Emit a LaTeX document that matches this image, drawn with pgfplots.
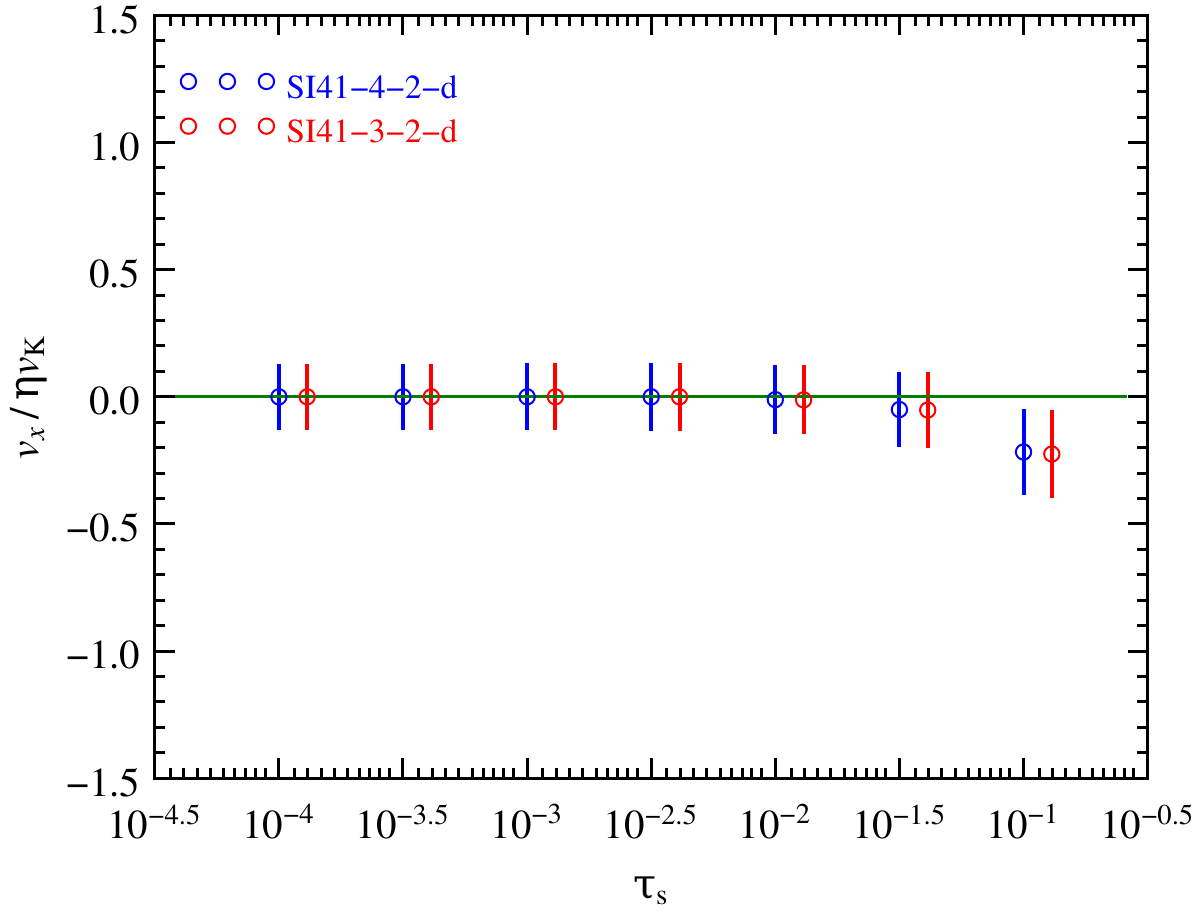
\documentclass[border=0pt]{standalone}
\usepackage{pgfplots}
\pgfplotsset{compat=1.18}
\usepackage{pgfplotstable}
\usepackage{fontspec}
\setmainfont{texgyretermes}[Extension=.otf, UprightFont=*-regular, ItalicFont=*-italic, BoldFont=*-bold, BoldItalicFont=*-bolditalic]
\newfontfamily\grk{DejaVu Serif}
\definecolor{dgreen}{rgb}{0,0.5,0}

\pgfplotstableread{
x y e
1e-4 0.000 0.130
3.16228e-4 0.000 0.130
1e-3 0.000 0.132
3.16228e-3 0.000 0.133
1e-2 -0.011 0.135
3.16228e-2 -0.050 0.149
1e-1 -0.217 0.170
}\blue
\pgfplotstableread{
x y e
1.3e-4 0.000 0.130
4.1110e-4 0.000 0.130
1.3e-3 0.000 0.132
4.1110e-3 0.000 0.133
1.3e-2 -0.012 0.136
4.1110e-2 -0.052 0.150
1.3e-1 -0.225 0.174
}\red

\begin{document}
\begin{tikzpicture}
\begin{axis}[
  scale only axis,
  width=297.9pt, height=228.9pt,
  xmode=log,
  xmin=3.16228e-5, xmax=0.316228,
  ymin=-1.5, ymax=1.5,
  xtick={3.16228e-5,1e-4,3.16228e-4,1e-3,3.16228e-3,1e-2,3.16228e-2,1e-1,3.16228e-1},
  xticklabels={10\textsuperscript{−4.5},10\textsuperscript{−4},10\textsuperscript{−3.5},10\textsuperscript{−3},10\textsuperscript{−2.5},10\textsuperscript{−2},10\textsuperscript{−1.5},10\textsuperscript{−1},10\textsuperscript{−0.5}},
  minor xtick={3.659e-5,4.139e-5,4.687e-5,5.297e-5,5.999e-5,6.653e-5,7.346e-5,8.054e-5,8.791e-5,
    1.157e-4,1.309e-4,1.482e-4,1.675e-4,1.897e-4,2.104e-4,2.323e-4,2.547e-4,2.780e-4,
    3.659e-4,4.139e-4,4.687e-4,5.297e-4,5.999e-4,6.653e-4,7.346e-4,8.054e-4,8.791e-4,
    1.157e-3,1.309e-3,1.482e-3,1.675e-3,1.897e-3,2.104e-3,2.323e-3,2.547e-3,2.780e-3,
    3.659e-3,4.139e-3,4.687e-3,5.297e-3,5.999e-3,6.653e-3,7.346e-3,8.054e-3,8.791e-3,
    1.157e-2,1.309e-2,1.482e-2,1.675e-2,1.897e-2,2.104e-2,2.323e-2,2.547e-2,2.780e-2,
    3.659e-2,4.139e-2,4.687e-2,5.297e-2,5.999e-2,6.653e-2,7.346e-2,8.054e-2,8.791e-2,
    1.157e-1,1.309e-1,1.482e-1,1.675e-1,1.897e-1,2.104e-1,2.323e-1,2.547e-1,2.780e-1},
  ytick={-1.5,-1,-0.5,0,0.5,1,1.5},
  yticklabels={−1.5,−1.0,−0.5,0.0,0.5,1.0,1.5},
  minor y tick num=4,
  tick align=inside,
  tick pos=both,
  major tick length=6pt,
  minor tick length=3.2pt,
  axis line style={line width=0.9pt},
  every tick/.style={line width=0.9pt, black},
  tick label style={font=\fontsize{12.3}{14}\selectfont, inner sep=1.5pt},
  xticklabel style={yshift=-6.1pt},
  yticklabel style={yshift=-1.2pt, xshift=-2.6pt},
  xlabel={{\grk τ}\textsubscript{s}},
  ylabel={\textit{v}\textsubscript{\textit{x}}\,/\,{\grk η}\textit{v}\textsubscript{K}},
  label style={font=\fontsize{12.5}{14}\selectfont},
  xlabel style={at={(axis description cs:0.5,-0.128)}, anchor=north, inner sep=1.5pt, yshift=1.5pt},
  ylabel style={at={(axis description cs:-0.098,0.5)}, anchor=south, inner sep=3pt},
  legend cell align=left,
  legend style={draw=none, fill=none, at={(axis description cs:0.0245,0.9256)}, anchor=north west,
    inner sep=0pt, row sep=3.8pt, column sep=3.4pt,
    nodes={inner sep=0pt, text height=7pt, text depth=2pt},
    font=\fontsize{10.1}{12}\selectfont},
]
\addplot[blue, line width=0.6pt, only marks, mark=o, mark size=2.3pt,
  mark options={line width=0.6pt},
  legend image code/.code={\foreach \xx in {0pt,11.7pt,23.4pt}{\draw[blue, line width=0.6pt] (\xx,2.5pt) circle[radius=2.3pt];}},
  error bars/.cd, y dir=both, y explicit, error mark=none,
  error bar style={line width=1.2pt, blue},
  ] table[x=x, y=y, y error=e] {\blue};
\addlegendentry{\textcolor{blue}{SI41−4−2−d}}
\addplot[red, line width=0.6pt, only marks, mark=o, mark size=2.3pt,
  mark options={line width=0.6pt},
  legend image code/.code={\foreach \xx in {0pt,11.7pt,23.4pt}{\draw[red, line width=0.6pt] (\xx,2.5pt) circle[radius=2.3pt];}},
  error bars/.cd, y dir=both, y explicit, error mark=none,
  error bar style={line width=1.2pt, red},
  ] table[x=x, y=y, y error=e] {\red};
\addlegendentry{\textcolor{red}{SI41−3−2−d}}
\addplot[dgreen, line width=0.9pt, forget plot] coordinates {(3.8e-5,0) (0.26,0)};
\end{axis}
\end{tikzpicture}
\end{document}
